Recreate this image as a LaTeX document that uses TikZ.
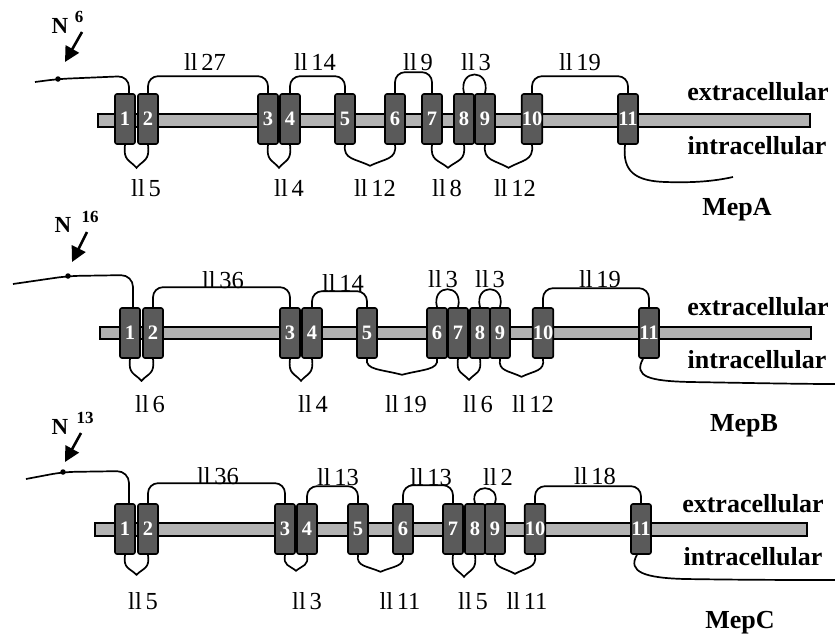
\documentclass[tikz,border=0pt]{standalone}
\usepackage{fontspec}
\setmainfont{Liberation Serif}
\usetikzlibrary{calc,arrows.meta}

\definecolor{helixgray}{HTML}{5A5A5A}
\definecolor{membgray}{HTML}{B2B2B2}

\tikzset{
  helix/.style={draw=black, line width=1.6pt, fill=helixgray, rounded corners=2pt,
    minimum width=20pt, minimum height=50pt, inner sep=0pt, text=white,
    font=\bfseries\fontsize{20.5}{20.5}\selectfont},
  membrane/.style={draw=black, line width=1.5pt, fill=membgray},
  loopline/.style={line width=1.7pt, draw=black},
  looplabel/.style={font=\fontsize{24.5}{24.5}\selectfont, inner sep=0pt},
  sidelabel/.style={font=\bfseries\fontsize{26}{26}\selectfont, inner sep=0pt, anchor=base},
  nlabel/.style={font=\bfseries\fontsize{23}{23}\selectfont, inner sep=0pt, anchor=base},
  nsup/.style={font=\bfseries\fontsize{17}{17}\selectfont, inner sep=0pt, anchor=base},
  nmark/.style={-{Triangle[length=15pt,width=15pt]}, line width=2.6pt},
  dotmark/.style={circle, fill=black, inner sep=0pt, minimum size=5.5pt},
}

% extracellular loop with flat top
\newcommand\uploop[3]{\draw[loopline, rounded corners=10pt] (#1.north) -- ++(0,-#3) -| (#2.north);}
% short extracellular loop (bulb)
\newcommand\bulbloop[3]{\draw[loopline] (#1.north) .. controls +(-6,-#3) and +(6,-#3) .. (#2.north);}
% intracellular loop: rounded shoulders meeting in a point at the bottom
\newcommand\downloop[3]{\draw[loopline] (#1.south)
  .. controls +(-2,#3*0.7) and ($(#1.south)!0.2!(#2.south)+(0,#3*0.65)$)
  .. ($(#1.south)!0.5!(#2.south)+(0,#3)$)
  .. controls ($(#1.south)!0.8!(#2.south)+(0,#3*0.65)$) and +(2,#3*0.7)
  .. (#2.south);}
\newcommand\looplen[1]{ll\hspace{0.15em}#1}

\begin{document}
\begin{tikzpicture}[x=1pt,y=-1pt]
\useasboundingbox (0,0) rectangle (835,637);

% ---------------- MepA ----------------
\draw[membrane] (98,114) rectangle (810,127);
\foreach \i/\x in {1/125,2/148,3/268,4/290,5/345,6/395,7/432,8/464,9/485,10/532,11/628}
  \node[helix] (a\i) at (\x,119) {\i};

\coordinate (nA) at (35,82);
\node[dotmark] (dA) at (58,79) {};
\draw[loopline, rounded corners=11pt] (nA) -- (dA.center) -- (129,76) -- ([xshift=4pt]a1.north);
\uploop{a2}{a3}{17}
\uploop{a4}{a5}{17}
\uploop{a6}{a7}{21}
\bulbloop{a8}{a9}{25}
\uploop{a10}{a11}{17}
\downloop{a1}{a2}{23}
\downloop{a3}{a4}{23}
\downloop{a5}{a6}{21}
\downloop{a7}{a8}{23}
\downloop{a9}{a10}{23}
\draw[loopline] ([xshift=-3pt]a11.south) .. controls (622,172) and (636,181) .. (665,182)
  .. controls (695,183) and (715,181) .. (733,177);

\node[looplabel] (la1) at (205,62) {\looplen{27}};
\node[looplabel] (la2) at (315,62) {\looplen{14}};
\node[looplabel] (la3) at (418,62) {\looplen{9}};
\node[looplabel] (la4) at (476,62) {\looplen{3}};
\node[looplabel] (la5) at (580,62) {\looplen{19}};
\node[looplabel] (la6) at (146,188) {\looplen{5}};
\node[looplabel] (la7) at (289,188) {\looplen{4}};
\node[looplabel] (la8) at (375,188) {\looplen{12}};
\node[looplabel] (la9) at (447,188) {\looplen{8}};
\node[looplabel] (la10) at (515,188) {\looplen{12}};

\node[sidelabel] (exA) at (758,100) {extracellular};
\node[sidelabel] (inA) at (757,154) {intracellular};
\node[sidelabel] (nmA) at (737,215) {MepA};
\node[nlabel] (NA) at (60,33) {N};
\node[nsup] (sA) at (79,22) {6};
\coordinate (tA) at (82,32);
\coordinate (hA) at (65,62);
\draw[nmark] (tA) -- (hA);

% ---------------- MepB ----------------
\draw[membrane] (100,327) rectangle (811,339);
\foreach \i/\x in {1/130,2/153,3/290,4/312,5/367,6/437,7/458,8/480,9/500,10/543,11/649}
  \node[helix] (b\i) at (\x,333) {\i};

\coordinate (nB) at (13,284);
\node[dotmark] (dB) at (68,276) {};
\draw[loopline, rounded corners=12pt] (nB) -- (dB.center) -- (133,275) -- ([xshift=3pt]b1.north);
\uploop{b2}{b3}{20}
\uploop{b4}{b5}{16}
\bulbloop{b6}{b7}{24}
\bulbloop{b8}{b9}{24}
\uploop{b10}{b11}{19}
\downloop{b1}{b2}{22}
\downloop{b3}{b4}{22}
\downloop{b5}{b6}{16}
\downloop{b7}{b8}{21}
\downloop{b9}{b10}{18}
\draw[loopline] ([xshift=-6pt]b11.south) .. controls (633,377) and (650,381) .. (690,382)
  .. controls (750,383) and (800,384) .. (835,384);

\node[looplabel] (lb1) at (223,280) {\looplen{36}};
\node[looplabel] (lb2) at (343,283) {\looplen{14}};
\node[looplabel] (lb3) at (443,279) {\looplen{3}};
\node[looplabel] (lb4) at (490,279) {\looplen{3}};
\node[looplabel] (lb5) at (600,279) {\looplen{19}};
\node[looplabel] (lb6) at (150,404) {\looplen{6}};
\node[looplabel] (lb7) at (313,404) {\looplen{4}};
\node[looplabel] (lb8) at (406,404) {\looplen{19}};
\node[looplabel] (lb9) at (478,404) {\looplen{6}};
\node[looplabel] (lb10) at (533,404) {\looplen{12}};

\node[sidelabel] (exB) at (758,315) {extracellular};
\node[sidelabel] (inB) at (757,368) {intracellular};
\node[sidelabel] (nmB) at (744,431) {MepB};
\node[nlabel] (NB) at (63,232) {N};
\node[nsup] (sB) at (90,222) {16};
\coordinate (tB) at (87,232);
\coordinate (hB) at (72,262);
\draw[nmark] (tB) -- (hB);

% ---------------- MepC ----------------
\draw[membrane] (95,523) rectangle (807,536);
\foreach \i/\x in {1/125,2/148,3/285,4/307,5/358,6/403,7/453,8/475,9/495,10/535,11/641}
  \node[helix] (c\i) at (\x,529) {\i};

\coordinate (nC) at (26,479);
\node[dotmark] (dC) at (63,472) {};
\draw[loopline, rounded corners=12pt] (nC) -- (dC.center) -- (129,471) -- ([xshift=4pt]c1.north);
\uploop{c2}{c3}{20}
\uploop{c4}{c5}{17}
\uploop{c6}{c7}{18}
\bulbloop{c8}{c9}{20}
\uploop{c10}{c11}{17}
\downloop{c1}{c2}{20}
\downloop{c3}{c4}{16}
\downloop{c5}{c6}{17}
\downloop{c7}{c8}{22}
\downloop{c9}{c10}{19}
\draw[loopline] ([xshift=-4pt]c11.south) .. controls (627,572) and (645,578) .. (685,579)
  .. controls (750,580) and (800,580) .. (835,580);

\node[looplabel] (lc1) at (218,476) {\looplen{36}};
\node[looplabel] (lc2) at (338,477) {\looplen{13}};
\node[looplabel] (lc3) at (431,477) {\looplen{13}};
\node[looplabel] (lc4) at (498,477) {\looplen{2}};
\node[looplabel] (lc5) at (595,476) {\looplen{18}};
\node[looplabel] (lc6) at (143,601) {\looplen{5}};
\node[looplabel] (lc7) at (307,601) {\looplen{3}};
\node[looplabel] (lc8) at (400,601) {\looplen{11}};
\node[looplabel] (lc9) at (473,601) {\looplen{5}};
\node[looplabel] (lc10) at (527,601) {\looplen{11}};

\node[sidelabel] (exC) at (753,512) {extracellular};
\node[sidelabel] (inC) at (753,565) {intracellular};
\node[sidelabel] (nmC) at (740,628) {MepC};
\node[nlabel] (NC) at (60,434) {N};
\node[nsup] (sC) at (85,423) {13};
\coordinate (tC) at (81,433);
\coordinate (hC) at (65,462);
\draw[nmark] (tC) -- (hC);
\end{tikzpicture}
\end{document}
